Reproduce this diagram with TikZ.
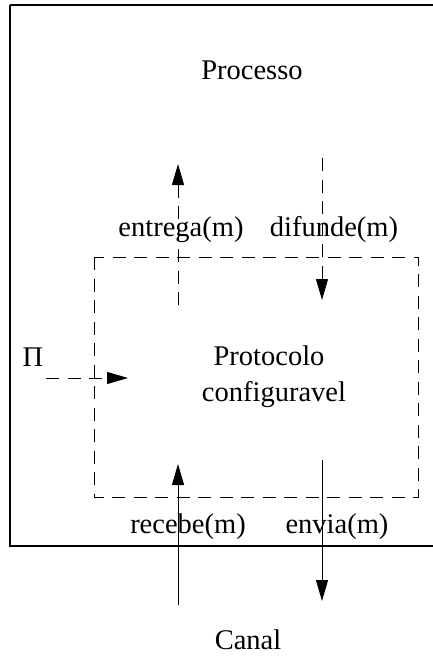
\documentclass[tikz,border=0pt]{standalone}
\usepackage{fontspec}
\setmainfont{Liberation Serif}
\usetikzlibrary{arrows.meta}
\begin{document}
\begin{tikzpicture}[x=1pt,y=-1pt,
  lbl/.style={anchor=base,inner sep=0pt,font=\fontsize{28.5}{34}\selectfont},
  dsh/.style={dash pattern=on 13pt off 8.5pt,line width=1pt},
  flow/.style={line width=1pt,-{Triangle[length=21pt,width=12pt]}},
  frame/.style={line width=1.3pt}]
\useasboundingbox (0,0) rectangle (432,657);
% process boundary (runs off the right side)
\draw[frame] (10,5) -- (445,5) (10,5) -- (10,546) -- (445,546);
% configurable protocol boundary
\draw[dsh] (94,257) rectangle (418,497);
% labels
\node[lbl] (proc) at (252,79) {Processo};
\node[lbl] (entrega) at (181,236) {entrega(m)};
\node[lbl] (difunde) at (334,236) {difunde(m)};
\node[lbl] (pi) at (33,366) {Π};
\node[lbl] (prot) at (269,365) {Protocolo};
\node[lbl] (conf) at (274,401) {configuravel};
\node[lbl] (recebe) at (188,533) {recebe(m)};
\node[lbl] (envia) at (337,533) {envia(m)};
\node[lbl] (canal) at (248,649) {Canal};
% arrow end points
\coordinate (eA) at (178,305); \coordinate (eB) at (178,164);
\coordinate (dA) at (322,158); \coordinate (dB) at (322,300);
\coordinate (pA) at (46,378);  \coordinate (pB) at (128,378);
\coordinate (rA) at (178,605); \coordinate (rB) at (178,464);
\coordinate (vA) at (322,460); \coordinate (vB) at (322,601);
% connectors
\draw[flow,dsh] (eA) -- (eB);
\draw[flow,dsh] (dA) -- (dB);
\draw[flow,dsh] (pA) -- (pB);
\draw[flow] (rA) -- (rB);
\draw[flow] (vA) -- (vB);
\end{tikzpicture}
\end{document}
